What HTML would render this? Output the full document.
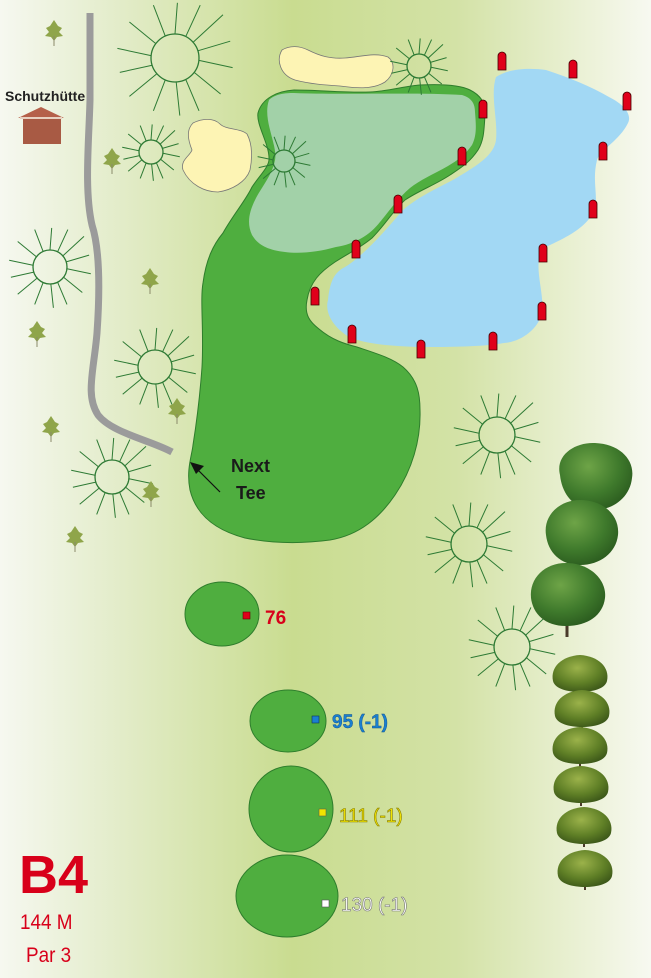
<!DOCTYPE html>
<html><head><meta charset="utf-8"><style>
html,body{margin:0;padding:0;width:651px;height:978px;overflow:hidden;background:#f6f8ee}
svg{display:block}
text{font-family:"Liberation Sans",sans-serif}
.b{font-weight:bold}
</style></head><body>
<svg width="651" height="978" viewBox="0 0 651 978" xmlns="http://www.w3.org/2000/svg">
<defs>
<linearGradient id="bg" x1="0" x2="1" y1="0" y2="0">
<stop offset="0" stop-color="#f6f8f0"/>
<stop offset="0.17" stop-color="#e4edcc"/>
<stop offset="0.45" stop-color="#c9dc90"/>
<stop offset="0.7" stop-color="#d3e2a6"/>
<stop offset="0.92" stop-color="#eef3dc"/>
<stop offset="1" stop-color="#f7f9f1"/>
</linearGradient>
<g id="star">
<circle r="1" fill="none" stroke="#2d7a34" stroke-width="1.3" vector-effect="non-scaling-stroke"/>
<g stroke="#2d7a34" stroke-width="1" vector-effect="non-scaling-stroke">
<line x1="0" y1="-1" x2="0.1" y2="-2.3" vector-effect="non-scaling-stroke"/>
<line x1="0.45" y1="-0.9" x2="1.05" y2="-2.2" vector-effect="non-scaling-stroke"/>
<line x1="0.75" y1="-0.65" x2="2.0" y2="-1.8" vector-effect="non-scaling-stroke"/>
<line x1="0.95" y1="-0.3" x2="2.3" y2="-0.7" vector-effect="non-scaling-stroke"/>
<line x1="1" y1="0.1" x2="2.4" y2="0.4" vector-effect="non-scaling-stroke"/>
<line x1="0.8" y1="0.6" x2="1.9" y2="1.5" vector-effect="non-scaling-stroke"/>
<line x1="0.45" y1="0.9" x2="1.0" y2="2.2" vector-effect="non-scaling-stroke"/>
<line x1="0.05" y1="1" x2="0.2" y2="2.4" vector-effect="non-scaling-stroke"/>
<line x1="-0.4" y1="0.9" x2="-0.9" y2="2.2" vector-effect="non-scaling-stroke"/>
<line x1="-0.75" y1="0.65" x2="-1.9" y2="1.6" vector-effect="non-scaling-stroke"/>
<line x1="-0.95" y1="0.3" x2="-2.3" y2="0.6" vector-effect="non-scaling-stroke"/>
<line x1="-1" y1="-0.1" x2="-2.4" y2="-0.4" vector-effect="non-scaling-stroke"/>
<line x1="-0.8" y1="-0.6" x2="-1.9" y2="-1.5" vector-effect="non-scaling-stroke"/>
<line x1="-0.4" y1="-0.9" x2="-0.9" y2="-2.2" vector-effect="non-scaling-stroke"/>
</g></g>
<g id="sap">
<path d="M0,-12 L4,-6 L8,-4 L5,0 L9,4 L3,5 L0,9 L-3,5 L-9,4 L-5,0 L-8,-4 L-4,-6Z" fill="#8fa54a"/>
<line x1="0" y1="4" x2="0" y2="14" stroke="#8a8a6a" stroke-width="1"/>
</g>
<radialGradient id="tr" cx="0.4" cy="0.35" r="0.7">
<stop offset="0" stop-color="#6ea447"/><stop offset="0.6" stop-color="#3f7a2c"/><stop offset="1" stop-color="#2a5a1e"/>
</radialGradient>
<radialGradient id="sh" cx="0.45" cy="0.35" r="0.7">
<stop offset="0" stop-color="#9bb24a"/><stop offset="0.6" stop-color="#5f7f26"/><stop offset="1" stop-color="#3a5518"/>
</radialGradient>
<g id="shrub">
<line x1="0" y1="10" x2="0" y2="22" stroke="#4a3a2a" stroke-width="2"/>
<path d="M-27,8 C-30,-6 -18,-17 0,-18 C18,-17 30,-6 27,8 C25,16 12,19 0,19 C-12,19 -25,16 -27,8Z" fill="url(#sh)"/>
</g>
</defs>
<rect width="651" height="978" fill="url(#bg)"/>

<path d="M90,13 L90,100 C89,140 84,190 92,225 C100,250 100,290 97,333 C94,370 85,395 98,415 C112,433 150,440 172,452" fill="none" stroke="#9b9b9b" stroke-width="7"/>

<text x="5" y="101" font-size="14" fill="#222" class="b">Schutzhütte</text>
<path d="M18,118 L41,107 L64,118Z" fill="#b5604a"/>
<rect x="23" y="118" width="38" height="26" fill="#a85a44"/>
<rect x="20" y="117" width="42" height="2" fill="#e8d0c0"/>

<path d="M282,50 C290,45 300,46 308,50 C320,56 330,59 345,58 C360,57 375,52 388,57 C396,63 394,75 385,82 C372,90 355,88 340,86 C325,85 310,84 295,80 C280,75 276,60 282,50Z" fill="#fdf4b4" stroke="#777" stroke-width="0.8"/>
<path d="M193,123 C203,118 214,118 220,124 C226,130 240,128 247,134 C253,145 252,160 250,170 C246,182 232,190 218,192 C205,192 190,185 183,170 C180,160 190,156 192,150 C188,140 186,130 193,123Z" fill="#fdf4b4" stroke="#777" stroke-width="0.8"/>

<path d="M496,77 C510,68 530,68 546,70 C570,78 590,86 609,97 C625,105 632,115 628,123 C620,140 600,150 597,160 C592,180 598,195 595,207 C590,228 560,240 546,247 C530,260 545,290 542,313 C538,330 520,342 504,343 C480,347 450,347 420,347 C390,346 365,344 349,337 C330,325 325,310 328,300 C330,280 335,272 345,267 C365,255 390,225 403,210 C420,195 445,185 458,177 C478,165 494,155 496,140 C498,120 490,95 496,77Z" fill="#a2d8f4"/>

<path d="M258,113 C262,98 278,91 294,90 C320,90 345,93 370,92 C390,91 405,86 420,85 C440,84 460,85 470,90 C482,96 486,105 485,115 C484,130 484,140 478,150 C470,162 462,167 450,175 C435,185 420,190 405,200 C392,212 385,225 372,238 C360,248 349,253 335,262 C320,272 310,282 307,300 C304,315 310,322 319,329 C332,340 345,344 357,347 C375,353 392,358 403,367 C418,380 420,395 420,410 C421,440 412,470 395,495 C380,517 360,535 330,540 C300,544 270,543 245,538 C215,530 196,515 190,490 C186,470 192,455 193,445 C197,420 200,395 202,367 C204,330 200,300 203,283 C206,260 213,245 223,233 C233,215 246,200 252,187 C260,175 268,168 269,160 C270,145 256,125 258,113Z" fill="#4fae3f" stroke="#2e7d2c" stroke-width="1"/>

<path d="M269,100 C275,94 285,93 294,93 C340,95 420,92 462,95 C472,98 475,104 475,112 C476,125 477,135 472,145 C465,155 458,160 448,166 C432,175 420,180 410,188 C398,198 390,210 380,222 C370,235 355,244 336,247 C318,252 300,254 285,252 C268,250 258,245 252,235 C246,222 250,210 256,198 C263,185 272,175 275,160 C278,145 262,120 269,100Z" fill="#a2d1a8"/>

<g fill="none">
<use href="#star" transform="translate(175,58) scale(24)"/>
<use href="#star" transform="translate(419,66) scale(12)"/>
<use href="#star" transform="translate(151,152) scale(12)"/>
<use href="#star" transform="translate(284,161) scale(11)"/>
<use href="#star" transform="translate(50,267) scale(17)"/>
<use href="#star" transform="translate(155,367) scale(17)"/>
<use href="#star" transform="translate(112,477) scale(17)"/>
<use href="#star" transform="translate(497,435) scale(18)"/>
<use href="#star" transform="translate(469,544) scale(18)"/>
<use href="#star" transform="translate(512,647) scale(18)"/>
</g>

<use href="#sap" transform="translate(54,32)"/>
<use href="#sap" transform="translate(112,160)"/>
<use href="#sap" transform="translate(150,280)"/>
<use href="#sap" transform="translate(37,333)"/>
<use href="#sap" transform="translate(51,428)"/>
<use href="#sap" transform="translate(177,410)"/>
<use href="#sap" transform="translate(151,493)"/>
<use href="#sap" transform="translate(75,538)"/>

<g fill="#e0001a" stroke="#400" stroke-width="0.8">
<path d="M498,70 v-14 a4,4 0 0 1 8,0 v14z"/>
<path d="M569,78 v-14 a4,4 0 0 1 8,0 v14z"/>
<path d="M623,110 v-14 a4,4 0 0 1 8,0 v14z"/>
<path d="M479,118 v-14 a4,4 0 0 1 8,0 v14z"/>
<path d="M599,160 v-14 a4,4 0 0 1 8,0 v14z"/>
<path d="M458,165 v-14 a4,4 0 0 1 8,0 v14z"/>
<path d="M589,218 v-14 a4,4 0 0 1 8,0 v14z"/>
<path d="M394,213 v-14 a4,4 0 0 1 8,0 v14z"/>
<path d="M539,262 v-14 a4,4 0 0 1 8,0 v14z"/>
<path d="M352,258 v-14 a4,4 0 0 1 8,0 v14z"/>
<path d="M311,305 v-14 a4,4 0 0 1 8,0 v14z"/>
<path d="M538,320 v-14 a4,4 0 0 1 8,0 v14z"/>
<path d="M348,343 v-14 a4,4 0 0 1 8,0 v14z"/>
<path d="M489,350 v-14 a4,4 0 0 1 8,0 v14z"/>
<path d="M417,358 v-14 a4,4 0 0 1 8,0 v14z"/>
</g>

<line x1="220" y1="492" x2="197" y2="469" stroke="#111" stroke-width="1.2"/>
<path d="M190,462 L204,466 L196,474Z" fill="#111"/>
<text x="231" y="472" font-size="18" fill="#1a1a1a" class="b">Next</text>
<text x="236" y="499" font-size="18" fill="#1a1a1a" class="b">Tee</text>

<g>
<path d="M560,475 C555,455 575,442 595,443 C620,444 635,460 632,478 C630,498 612,510 595,510 C575,510 562,495 560,475Z" fill="url(#tr)"/>
<path d="M546,535 C543,515 560,500 580,500 C603,500 620,515 618,535 C616,553 600,565 580,565 C560,565 548,552 546,535Z" fill="url(#tr)"/>
<line x1="567" y1="620" x2="567" y2="637" stroke="#4a3a2a" stroke-width="3"/>
<path d="M531,598 C529,578 545,563 566,563 C590,563 607,580 605,598 C603,615 588,626 566,626 C545,626 533,614 531,598Z" fill="url(#tr)"/>
<use href="#shrub" transform="translate(580,673)"/>
<use href="#shrub" transform="translate(582,708)"/>
<use href="#shrub" transform="translate(580,745)"/>
<use href="#shrub" transform="translate(581,784)"/>
<use href="#shrub" transform="translate(584,825)"/>
<use href="#shrub" transform="translate(585,868)"/>
</g>

<g fill="#4fae3f" stroke="#2e7d2c" stroke-width="1">
<ellipse cx="222" cy="614" rx="37" ry="32"/>
<ellipse cx="288" cy="721" rx="38" ry="31"/>
<ellipse cx="291" cy="809" rx="42" ry="43"/>
<ellipse cx="287" cy="896" rx="51" ry="41"/>
</g>
<rect x="243" y="612" width="7" height="7" fill="#e0001a" stroke="#600" stroke-width="0.6"/>
<rect x="312" y="716" width="7" height="7" fill="#1a7fd0" stroke="#135" stroke-width="0.6"/>
<rect x="319" y="809" width="7" height="7" fill="#f2e400" stroke="#664" stroke-width="0.6"/>
<rect x="322" y="900" width="7" height="7" fill="#fff" stroke="#555" stroke-width="0.6"/>
<text x="265" y="624" font-size="19" fill="#d8001a" class="b">76</text>
<text x="332" y="728" font-size="19" fill="#1a7fd0" stroke="#0d4f8a" stroke-width="0.4" class="b">95 (-1)</text>
<text x="339" y="822" font-size="19" fill="#f2e400" stroke="#8a8000" stroke-width="0.6">111 (-1)</text>
<text x="341" y="911" font-size="19" fill="#fff" stroke="#777" stroke-width="0.6">130 (-1)</text>

<text x="19" y="893" font-size="54" fill="#d8001a" class="b">B4</text>
<text x="20" y="929" font-size="21" fill="#d8001a" transform="translate(20,0) scale(0.9,1) translate(-20,0)">144 M</text>
<text x="26" y="962" font-size="21" fill="#d8001a" transform="translate(26,0) scale(0.9,1) translate(-26,0)">Par 3</text>
</svg>
</body></html>
